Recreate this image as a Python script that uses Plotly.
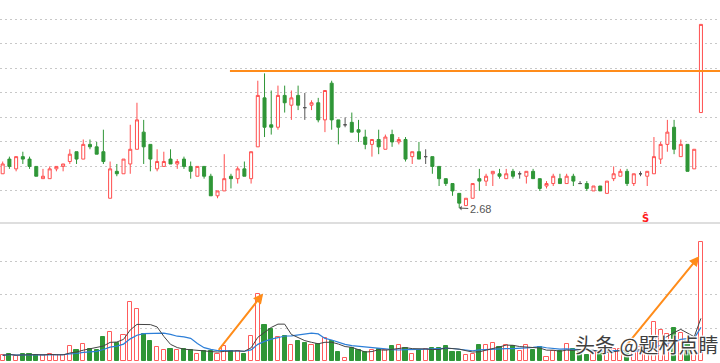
import plotly.graph_objects as go
import pandas as pd

# ---------------- data ----------------
open_ = [2.82, 2.88, 2.84, 2.89, 2.88, 2.85, 2.80, 2.80, 2.84, 2.85,
         2.87, 2.91, 2.88, 2.94, 2.93, 2.91, 2.72, 2.83, 2.82, 2.86,
         2.92, 2.99, 2.94, 2.84, 2.85, 2.88, 2.86, 2.88, 2.85, 2.81,
         2.85, 2.81, 2.73, 2.75, 2.81, 2.80, 2.84, 2.80, 2.93, 3.13,
         3.02, 3.01, 3.14, 3.10, 3.14, 3.09, 3.10, 3.11, 3.04, 3.19,
         3.04, 3.02, 3.03, 3.00, 2.97, 2.94, 2.96, 2.92, 2.98, 2.95,
         2.96, 2.89, 2.91, 2.89, 2.89, 2.85, 2.80, 2.78, 2.74, 2.69,
         2.72, 2.80, 2.79, 2.82, 2.82, 2.80, 2.83, 2.82, 2.81, 2.83,
         2.80, 2.77, 2.78, 2.80, 2.78, 2.81, 2.78, 2.78, 2.75, 2.77,
         2.74, 2.80, 2.81, 2.83, 2.78, 2.82, 2.81, 2.82, 2.88, 2.94,
         3.01, 2.89, 2.94, 2.84, 3.07]
high = [2.87, 2.89, 2.89, 2.91, 2.89, 2.85, 2.84, 2.85, 2.85, 2.86,
        2.92, 2.91, 2.96, 2.96, 2.95, 3.00, 2.87, 2.86, 2.88, 3.02,
        3.11, 3.04, 2.94, 2.92, 2.91, 2.92, 2.88, 2.89, 2.87, 2.85,
        2.85, 2.82, 2.75, 2.90, 2.82, 2.85, 2.87, 2.91, 3.20, 3.23,
        3.16, 3.18, 3.18, 3.16, 3.18, 3.15, 3.12, 3.13, 3.16, 3.20,
        3.04, 3.05, 3.07, 3.04, 3.00, 2.96, 3.00, 2.98, 3.00, 2.97,
        2.97, 2.91, 2.95, 2.92, 2.89, 2.85, 2.80, 2.78, 2.74, 2.72,
        2.78, 2.84, 2.82, 2.83, 2.84, 2.84, 2.84, 2.83, 2.83, 2.84,
        2.80, 2.79, 2.82, 2.82, 2.82, 2.82, 2.79, 2.79, 2.77, 2.77,
        2.79, 2.85, 2.84, 2.84, 2.82, 2.83, 2.83, 2.97, 2.95, 3.04,
        3.04, 2.96, 2.94, 2.92, 3.43]
low = [2.82, 2.84, 2.83, 2.86, 2.84, 2.81, 2.80, 2.80, 2.83, 2.83,
       2.86, 2.86, 2.88, 2.92, 2.90, 2.86, 2.72, 2.81, 2.82, 2.82,
       2.92, 2.86, 2.83, 2.83, 2.85, 2.86, 2.84, 2.84, 2.80, 2.81,
       2.80, 2.73, 2.72, 2.75, 2.76, 2.78, 2.81, 2.78, 2.93, 2.97,
       2.98, 3.00, 3.07, 3.04, 3.08, 3.04, 3.08, 3.03, 2.99, 3.00,
       2.94, 3.01, 2.99, 2.95, 2.92, 2.89, 2.90, 2.92, 2.93, 2.94,
       2.87, 2.86, 2.88, 2.86, 2.82, 2.77, 2.77, 2.73, 2.68, 2.69,
       2.72, 2.75, 2.77, 2.77, 2.80, 2.80, 2.80, 2.80, 2.78, 2.80,
       2.75, 2.76, 2.77, 2.78, 2.78, 2.77, 2.78, 2.75, 2.75, 2.75,
       2.74, 2.79, 2.81, 2.77, 2.77, 2.81, 2.77, 2.82, 2.86, 2.91,
       2.90, 2.89, 2.83, 2.84, 3.07]
close = [2.86, 2.85, 2.89, 2.88, 2.85, 2.81, 2.81, 2.84, 2.85, 2.86,
         2.90, 2.88, 2.94, 2.93, 2.90, 2.87, 2.84, 2.82, 2.88, 2.92,
         3.04, 2.93, 2.88, 2.87, 2.87, 2.86, 2.87, 2.85, 2.83, 2.85,
         2.81, 2.73, 2.75, 2.80, 2.80, 2.84, 2.81, 2.91, 3.14, 3.01,
         3.01, 3.14, 3.11, 3.13, 3.10, 3.09, 3.11, 3.04, 3.16, 3.04,
         3.01, 3.02, 2.99, 2.99, 2.94, 2.96, 2.93, 2.97, 2.95, 2.96,
         2.88, 2.91, 2.88, 2.89, 2.85, 2.80, 2.78, 2.75, 2.70, 2.72,
         2.78, 2.79, 2.81, 2.83, 2.81, 2.82, 2.81, 2.82, 2.83, 2.80,
         2.76, 2.78, 2.81, 2.78, 2.81, 2.79, 2.78, 2.76, 2.77, 2.75,
         2.79, 2.82, 2.83, 2.78, 2.82, 2.82, 2.83, 2.89, 2.94, 2.99,
         2.92, 2.94, 2.83, 2.92, 3.43]
volume = [0.18, 0.23, 0.15, 0.23, 0.21, 0.19, 0.18, 0.23, 0.18, 0.20,
          0.46, 0.33, 0.51, 0.38, 0.35, 0.73, 0.88, 0.56, 0.78, 1.77,
          1.56, 0.81, 0.60, 0.43, 0.35, 0.36, 0.33, 0.36, 0.35, 0.21,
          0.30, 0.30, 0.23, 0.45, 0.30, 0.30, 0.23, 0.75, 2.03, 1.10,
          0.98, 0.73, 0.75, 0.48, 0.60, 0.55, 0.48, 0.53, 0.70, 0.61,
          0.28, 0.10, 0.41, 0.33, 0.28, 0.35, 0.38, 0.33, 0.45, 0.50,
          0.40, 0.23, 0.35, 0.38, 0.41, 0.41, 0.45, 0.28, 0.28, 0.18,
          0.21, 0.48, 0.50, 0.55, 0.43, 0.48, 0.45, 0.31, 0.48, 0.33,
          0.43, 0.13, 0.31, 0.31, 0.51, 0.38, 0.28, 0.20, 0.28, 0.28,
          0.30, 0.38, 0.38, 0.31, 0.30, 0.43, 0.38, 1.18, 0.93, 0.83,
          1.01, 0.85, 0.60, 0.40, 3.60]

price_grid = [2.75, 2.85, 2.95, 3.05, 3.15, 3.25, 3.35, 3.45]
volume_grid = [1, 2, 3]
resistance_level = 3.24
resistance_start = 33.85
low_index = 68
low_label = "2.68"
signal_index = 95.7
signal_price = 2.64
signal_text = "<b>Ŝ</b>"
arrow1 = dict(tail=(32.0, 0.30), head=(38.8, 2.04))
arrow2 = dict(tail=(92.5, 0.38), head=(103.75, 3.16))
watermark = "头条 @题材点睛"

# ---------------- styling ----------------
RED = "#ff4f4f"
GREEN = "#2f9637"
GRAY = "#555555"
ORANGE = "#ff8c1a"
X_RANGE = [-0.40, 106.84]

days = list(range(len(close)))
up = [i for i in days if close[i] > open_[i]]
down = [i for i in days if close[i] < open_[i]]
flat = [i for i in days if close[i] == open_[i]]


def pick(arr, idx):
    return [arr[i] for i in idx]


fig = go.Figure()


def add_candles(idx, inc_line, inc_fill, dec_line, dec_fill):
    fig.add_trace(go.Candlestick(
        x=idx, open=pick(open_, idx), high=pick(high, idx),
        low=pick(low, idx), close=pick(close, idx),
        increasing=dict(line=dict(color=inc_line, width=1), fillcolor=inc_fill),
        decreasing=dict(line=dict(color=dec_line, width=1), fillcolor=dec_fill),
        whiskerwidth=0, showlegend=False, hoverinfo="skip",
        xaxis="x", yaxis="y"))


add_candles(up, RED, "white", RED, "white")
add_candles(down, GREEN, GREEN, GREEN, GREEN)
add_candles(flat, GRAY, GRAY, GRAY, GRAY)

# volume colours follow the candle (flat candles compare with previous close)
vol_up = []
for i in days:
    if close[i] != open_[i]:
        vol_up.append(close[i] > open_[i])
    else:
        vol_up.append(i == 0 or close[i] >= close[i - 1])
vu = [i for i in days if vol_up[i]]
vd = [i for i in days if not vol_up[i]]

fig.add_trace(go.Bar(x=vu, y=pick(volume, vu), width=0.62,
                     marker=dict(color="white", line=dict(color="#ff5c5c", width=1)),
                     xaxis="x2", yaxis="y2", showlegend=False, hoverinfo="skip"))
fig.add_trace(go.Bar(x=vd, y=pick(volume, vd), width=0.62,
                     marker=dict(color=GREEN, line=dict(color=GREEN, width=1)),
                     xaxis="x2", yaxis="y2", showlegend=False, hoverinfo="skip"))

vol_s = pd.Series(volume)
ma5 = vol_s.rolling(5, min_periods=1).mean()
ma10 = vol_s.rolling(10, min_periods=1).mean()
fig.add_trace(go.Scatter(x=days, y=ma10, mode="lines",
                         line=dict(color="#2d7fd8", width=1.2),
                         xaxis="x2", yaxis="y2", showlegend=False, hoverinfo="skip"))
fig.add_trace(go.Scatter(x=days, y=ma5, mode="lines",
                         line=dict(color="#444444", width=1),
                         xaxis="x2", yaxis="y2", showlegend=False, hoverinfo="skip"))

fig.update_layout(
    width=720, height=363,
    margin=dict(l=0, r=0, t=0, b=0),
    paper_bgcolor="white", plot_bgcolor="white",
    boxgap=0.36, bargap=0,
    showlegend=False,
    xaxis=dict(domain=[0, 1], range=X_RANGE, visible=False,
               rangeslider=dict(visible=False), anchor="y"),
    xaxis2=dict(domain=[0, 1], range=X_RANGE, visible=False,
                matches="x", anchor="y2"),
    yaxis=dict(domain=[0.3884, 1], range=[2.623, 3.5296],
               tickvals=price_grid, showticklabels=False, ticks="",
               showgrid=True, gridcolor="#c8c8c8", griddash="2px,3px",
               gridwidth=1, zeroline=False, showline=False),
    yaxis2=dict(domain=[0, 0.3829], range=[-0.05, 4.127],
                tickvals=volume_grid, showticklabels=False, ticks="",
                showgrid=True, gridcolor="#c8c8c8", griddash="2px,3px",
                gridwidth=1, zeroline=False, showline=False),
)

# panel separator
fig.add_shape(type="line", xref="paper", yref="paper", x0=0, x1=1,
              y0=0.3857, y1=0.3857, line=dict(color="#dedede", width=2))

# resistance line
fig.add_shape(type="line", xref="x", yref="y", x0=resistance_start, x1=X_RANGE[1],
              y0=resistance_level, y1=resistance_level,
              line=dict(color=ORANGE, width=2))

# low label
fig.add_annotation(x=low_index, y=low[low_index], xref="x", yref="y",
                   text=low_label, showarrow=True, ax=21, ay=1,
                   arrowhead=1, arrowsize=0.8, arrowwidth=1, arrowcolor="#555",
                   font=dict(family="Liberation Sans, Arial", size=11, color="#555"),
                   xanchor="center", yanchor="middle")

# signal marker
fig.add_annotation(x=signal_index, y=signal_price, xref="x", yref="y",
                   text=signal_text, showarrow=False,
                   font=dict(family="DejaVu Sans", size=10, color="#ff1a1a"))

# volume arrows
for arr in (arrow1, arrow2):
    fig.add_annotation(x=arr["head"][0], y=arr["head"][1], xref="x2", yref="y2",
                       ax=arr["tail"][0], ay=arr["tail"][1], axref="x2", ayref="y2",
                       text="", showarrow=True, arrowhead=2, arrowsize=1,
                       arrowwidth=2, arrowcolor=ORANGE)

# watermark
fig.add_annotation(x=0.8985, y=0.052, xref="paper", yref="paper",
                   xanchor="center", yanchor="middle",
                   text=watermark, showarrow=False,
                   font=dict(family="Noto Sans CJK SC", size=20, color="#3f3f3f",
                             shadow="1px 1px 1px white, -1px -1px 1px white, 1px -1px 1px white, -1px 1px 1px white"))

fig.write_html("out.html", config={"displayModeBar": False},
               post_script="document.body.style.margin='0px';document.body.style.overflow='hidden';")
